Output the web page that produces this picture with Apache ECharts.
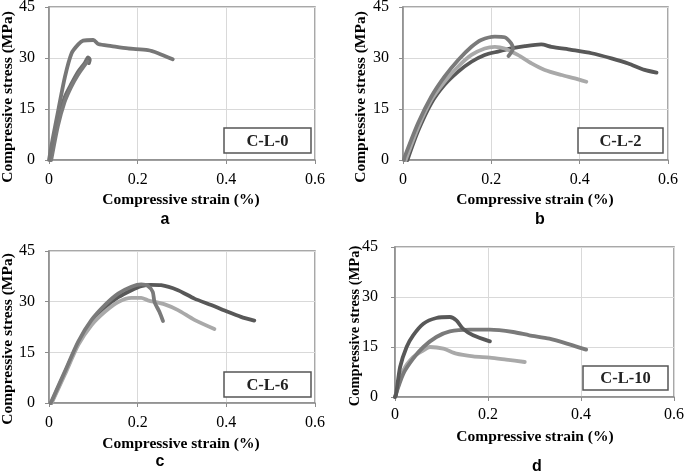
<!DOCTYPE html>
<html><head><meta charset="utf-8">
<script src="https://cdn.jsdelivr.net/npm/echarts@6/dist/echarts.min.js"></script>
<style>html,body{margin:0;padding:0;background:#fff}#c{width:685px;height:473px}</style>
</head><body><div id="c"></div>
<script>
// ---- data ----
const xTickLabels = ['0', '0.2', '0.4', '0.6'];
const yTickLabels = ['0', '15', '30', '45'];
const panelNames = ['C-L-0', 'C-L-2', 'C-L-6', 'C-L-10'];
const panelLetters = ['a', 'b', 'c', 'd'];

// panel a (C-L-0)
const aStrain1 = [0, 0.008, 0.021, 0.036, 0.051, 0.066, 0.077, 0.100, 0.111, 0.141, 0.178, 0.223, 0.246, 0.279];
const aStress1 = [0, 6.0, 14.7, 24.5, 31.4, 34.0, 35.1, 35.3, 34.1, 33.5, 32.8, 32.3, 31.4, 29.6];
const aStrain2 = [0.003, 0.021, 0.036, 0.051, 0.066, 0.081, 0.088, 0.092, 0.090];
const aStress2 = [0, 11.8, 18.6, 22.5, 26.0, 28.6, 30.2, 29.5, 28.5];
const aStrain3 = [0.005, 0.020, 0.035, 0.050, 0.065, 0.080, 0.087];
const aStress3 = [0, 10.0, 17.0, 21.5, 25.0, 27.8, 29.0];

// panel b (C-L-2)
const bStrain1 = [0.002, 0.004, 0.034, 0.064, 0.094, 0.125, 0.155, 0.177, 0.208, 0.230, 0.245, 0.249, 0.239];
const bStress1 = [0, 1.0, 10.8, 18.6, 24.5, 29.4, 33.3, 35.3, 36.3, 36.1, 34.3, 32.8, 30.6];
const bStrain2 = [0.006, 0.034, 0.064, 0.094, 0.125, 0.155, 0.185, 0.208, 0.230, 0.260, 0.291, 0.321, 0.359, 0.389, 0.415];
const bStress2 = [0, 9.5, 17.6, 23.0, 27.5, 30.9, 32.8, 33.3, 32.8, 30.9, 28.4, 26.5, 25.0, 24.0, 23.0];
const bStrain3 = [0.010, 0.034, 0.064, 0.094, 0.125, 0.155, 0.185, 0.215, 0.245, 0.276, 0.313, 0.336, 0.381, 0.427, 0.472, 0.510, 0.547, 0.574];
const bStress3 = [0, 8.5, 16.7, 22.1, 26.0, 28.9, 30.9, 31.9, 32.8, 33.5, 34.0, 33.3, 32.4, 31.4, 29.9, 28.4, 26.5, 25.7];

// panel c (C-L-6)
const cStrain1 = [0.004, 0.036, 0.066, 0.096, 0.126, 0.156, 0.186, 0.208, 0.223, 0.234, 0.238, 0.249, 0.257];
const cStress1 = [0, 9.4, 18.2, 24.6, 29.0, 32.4, 34.4, 35.1, 34.7, 32.9, 29.9, 27.0, 24.3];
const cStrain2 = [0.006, 0.036, 0.066, 0.096, 0.126, 0.156, 0.186, 0.208, 0.223, 0.261, 0.291, 0.328, 0.373];
const cStress2 = [0, 8.5, 17.2, 23.1, 27.0, 29.9, 31.1, 31.1, 30.4, 29.2, 27.5, 24.6, 21.9];
const cStrain3 = [0.005, 0.036, 0.066, 0.096, 0.126, 0.156, 0.186, 0.208, 0.230, 0.253, 0.291, 0.328, 0.366, 0.403, 0.433, 0.463];
const cStress3 = [0, 9.0, 17.7, 24.0, 28.2, 31.3, 33.4, 34.6, 35.0, 34.9, 33.4, 30.9, 29.0, 27.0, 25.5, 24.4];

// panel d (C-L-10)
const dStrain1 = [0, 0.002, 0.011, 0.025, 0.039, 0.061, 0.089, 0.118, 0.132, 0.146, 0.168, 0.204];
const dStress1 = [0, 0.5, 9.0, 15.0, 18.5, 22.0, 23.7, 24.0, 23.0, 20.5, 18.5, 16.7];
const dStrain2 = [0, 0.018, 0.039, 0.061, 0.089, 0.118, 0.161, 0.204, 0.254, 0.289, 0.332, 0.375, 0.411];
const dStress2 = [0, 7.0, 11.5, 15.0, 18.0, 19.7, 20.2, 20.2, 19.5, 18.5, 17.5, 15.8, 14.2];
const dStrain3 = [0, 0.018, 0.039, 0.061, 0.075, 0.104, 0.132, 0.168, 0.204, 0.239, 0.279];
const dStress3 = [0, 8.0, 12.0, 14.0, 15.0, 14.5, 13.0, 12.2, 11.8, 11.2, 10.5];

// ---- layout ----
const grids = [
  {left: 49, top: 7, width: 266, height: 153},
  {left: 403, top: 7, width: 265, height: 153},
  {left: 49, top: 251, width: 266, height: 152},
  {left: 395, top: 247, width: 279, height: 150}
];
const DARK = '#585858', MID = '#7a7a7a', LIGHT = '#a9a9a9';
const panelSeries = [
  [[aStrain2, aStress2, '#6e6e6e'], [aStrain3, aStress3, '#7c7c7c'], [aStrain1, aStress1, '#777777']],
  [[bStrain3, bStress3, DARK], [bStrain2, bStress2, LIGHT], [bStrain1, bStress1, MID]],
  [[cStrain3, cStress3, DARK], [cStrain2, cStress2, LIGHT], [cStrain1, cStress1, MID]],
  [[dStrain3, dStress3, LIGHT], [dStrain2, dStress2, MID], [dStrain1, dStress1, DARK]]
];

const serif = 'Liberation Serif';
const xAxes = [], yAxes = [], series = [];
grids.forEach((g, i) => {
  xAxes.push({
    type: 'value', gridIndex: i, min: 0, max: 0.6, interval: 0.2,
    axisLine: {show: true, lineStyle: {color: '#8c8c8c', width: 1.5}},
    axisTick: {show: true, length: 4, lineStyle: {color: '#8c8c8c'}},
    splitLine: {show: true, lineStyle: {color: '#d9d9d9', width: 1}},
    axisLabel: {margin: i === 3 ? 10 : 12, fontFamily: serif, fontSize: 16, color: '#000',
      formatter: (v) => xTickLabels[Math.round(v / 0.2)]}
  });
  yAxes.push({
    type: 'value', gridIndex: i, min: 0, max: 45, interval: 15,
    axisLine: {show: true, lineStyle: {color: '#8c8c8c', width: 1.5}},
    axisTick: {show: true, length: 4, lineStyle: {color: '#8c8c8c'}},
    splitLine: {show: true, lineStyle: {color: '#d9d9d9', width: 1}},
    axisLabel: {margin: i === 3 ? 17 : 14, fontFamily: serif, fontSize: 16, color: '#000',
      formatter: (v) => yTickLabels[Math.round(v / 15)]}
  });
  panelSeries[i].forEach(([xs, ys, col]) => {
    series.push({
      type: 'line', xAxisIndex: i, yAxisIndex: i, showSymbol: false, symbol: 'none',
      smooth: 0.25, clip: true,
      lineStyle: {color: col, width: 3.8, cap: 'round', join: 'round'},
      data: xs.map((x, k) => [x, ys[k]])
    });
  });
});

const bold = (s) => 'bold ' + s + 'px "Liberation Serif"';
const graphics = [];
// y-axis titles
[[8, 97, 15.5], [361, 97, 15.5], [8, 339, 15.5], [355, 326, 14.5]].forEach(([x, y, fs]) => {
  graphics.push({type: 'text', x: x, y: y, rotation: Math.PI / 2, z: 10,
    style: {text: 'Compressive stress (MPa)', font: bold(fs), fill: '#000', textAlign: 'center', textVerticalAlign: 'middle'}});
});
// x-axis titles
[[181, 200], [535, 200], [181, 444], [535, 437]].forEach(([x, y]) => {
  graphics.push({type: 'text', x: x, y: y, z: 10,
    style: {text: 'Compressive strain (%)', font: bold(15.5), fill: '#000', textAlign: 'center', textVerticalAlign: 'middle'}});
});
// panel letters
[[165, 220], [540, 220], [160, 462], [537, 467]].forEach(([x, y], i) => {
  graphics.push({type: 'text', x: x, y: y, z: 10,
    style: {text: panelLetters[i], font: 'bold 16px "Liberation Sans"', fill: '#000', textAlign: 'center', textVerticalAlign: 'middle'}});
});
// label boxes
[[224, 128, 87, 25], [578, 128, 85, 25], [224, 372, 87, 25], [583, 366, 85, 24]].forEach(([x, y, w, h], i) => {
  graphics.push({type: 'rect', z: 20, shape: {x: x, y: y, width: w, height: h},
    style: {fill: '#fff', stroke: '#555', lineWidth: 1.5}});
  graphics.push({type: 'text', z: 21, x: x + w / 2, y: y + h / 2 + 1,
    style: {text: panelNames[i], font: bold(16.5), fill: '#222', textAlign: 'center', textVerticalAlign: 'middle'}});
});

const chart = echarts.init(document.getElementById('c'), null, {renderer: 'canvas'});
chart.setOption({
  animation: false,
  backgroundColor: '#fff',
  grid: grids.map(g => Object.assign({show: true, borderColor: '#8c8c8c', borderWidth: 1.5, backgroundColor: 'transparent', containLabel: false, outerBoundsMode: 'none'}, g)),
  xAxis: xAxes,
  yAxis: yAxes,
  series: series,
  graphic: graphics
});
</script>
</body></html>
